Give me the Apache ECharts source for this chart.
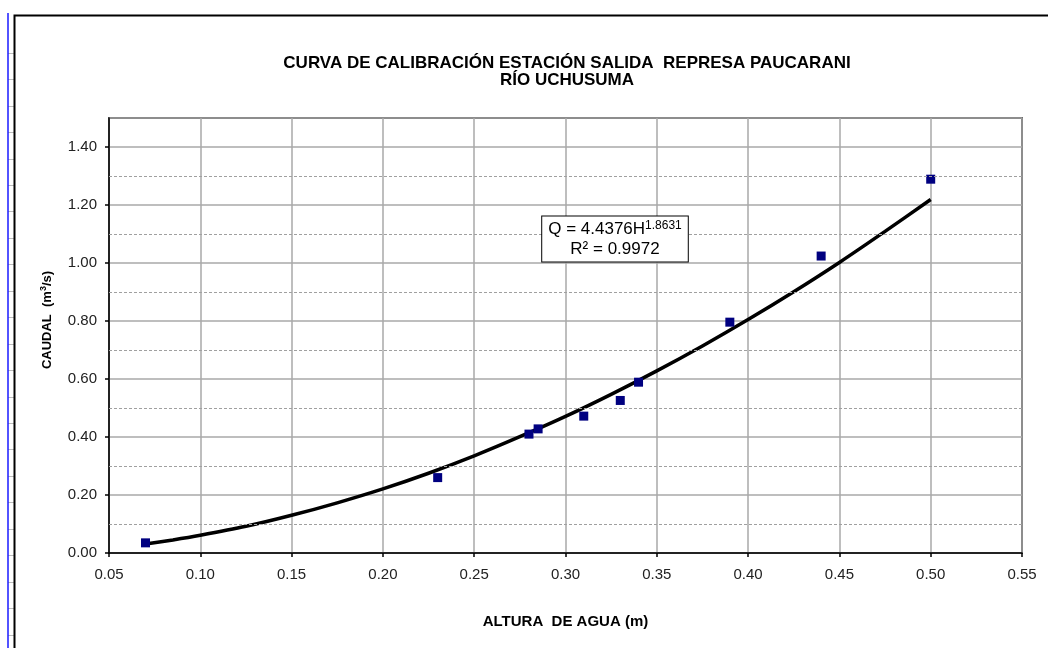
<!DOCTYPE html>
<html>
<head>
<meta charset="utf-8">
<script src="https://cdn.jsdelivr.net/npm/echarts@6/dist/echarts.min.js"></script>
<style>
html,body{margin:0;padding:0;background:#fff;}
#chart{width:1048px;height:648px;}
</style>
</head>
<body>
<div id="chart"></div>
<script>
// Measured data: water height (m) vs discharge (m3/s)
const heights = [0.07, 0.23, 0.28, 0.285, 0.31, 0.33, 0.34, 0.39, 0.44, 0.50];
const flows   = [0.035, 0.26, 0.41, 0.428, 0.472, 0.526, 0.589, 0.796, 1.024, 1.289];
// Trend curve
const curveH = [0.07, 0.085, 0.10, 0.125, 0.15, 0.175, 0.20, 0.225, 0.25, 0.275, 0.30, 0.325, 0.35, 0.375, 0.40, 0.425, 0.45, 0.475, 0.50];
const curveQ = [0.031, 0.045, 0.061, 0.092, 0.130, 0.173, 0.221, 0.275, 0.335, 0.401, 0.471, 0.547, 0.628, 0.714, 0.805, 0.901, 1.002, 1.109, 1.219];
// Dashed intermediate gridlines
const minorGrid = [0.1, 0.3, 0.5, 0.7, 0.9, 1.1, 1.3];
const titleLines = ['CURVA DE CALIBRACIÓN ESTACIÓN SALIDA  REPRESA PAUCARANI', 'RÍO UCHUSUMA'];
const xName = 'ALTURA  DE AGUA (m)';
const eqCoef = '4.4376';
const eqExp = '1.8631';
const r2 = '0.9972';

const chart = echarts.init(document.getElementById('chart'), null, {renderer: 'canvas'});
const font = '"Liberation Sans", Arial, sans-serif';

const gfx = [
  {type: 'line', shape: {x1: 8, y1: 13, x2: 8, y2: 648}, style: {stroke: '#1a1aff', lineWidth: 1.5}, z: 10},
  {type: 'rect', shape: {x: 14.5, y: 15.5, width: 1100, height: 700}, style: {fill: 'none', stroke: '#000', lineWidth: 2}, z: 10},
  {type: 'text', x: 615, y: 239, z: 20,
    style: {
      text: '{a|Q = ' + eqCoef + 'H}{s|' + eqExp + '}\n{a|R² = ' + r2 + '}',
      align: 'center', verticalAlign: 'middle',
      backgroundColor: '#fff', borderColor: '#000', borderWidth: 1,
      padding: [3, 6, 2, 6], fill: '#000', fontFamily: font,
      rich: {
        a: {fontSize: 17, fontFamily: font, lineHeight: 20, fill: '#000'},
        s: {fontSize: 12, fontFamily: font, lineHeight: 20, verticalAlign: 'top', padding: [0, 0, 6, 0], fill: '#000'}
      }
    }
  },
  {type: 'text', x: 47, y: 320, rotation: Math.PI / 2, z: 20,
    style: {
      text: '{a|CAUDAL  (m}{s|3}{a|/s)}', align: 'center', verticalAlign: 'middle', fontFamily: font,
      rich: {
        a: {fontSize: 13, fontWeight: 'bold', fontFamily: font, fill: '#000', lineHeight: 16},
        s: {fontSize: 9, fontWeight: 'bold', fontFamily: font, fill: '#000', lineHeight: 16, padding: [0, 0, 6, 0]}
      }
    }
  }
];
for (let k = 0; k < 23; k++) {
  const y = Math.round(52.7 + k * 26.45) + 0.5;
  gfx.push({type: 'line', shape: {x1: 8, y1: y, x2: 14, y2: y}, style: {stroke: '#bbb', lineWidth: 1}, z: 9});
}

const option = {
  backgroundColor: '#fff',
  animation: false,
  title: {
    text: titleLines.join('\n'),
    left: 562, top: 50, textAlign: 'center',
    textStyle: {fontFamily: font, fontSize: 17, fontWeight: 'bold', color: '#000', lineHeight: 17}
  },
  grid: {left: 109, right: 26, top: 118, bottom: 95, show: true, borderColor: '#000', borderWidth: 1.5, backgroundColor: 'transparent'},
  xAxis: {
    type: 'value', min: 0.05, max: 0.55, interval: 0.05,
    name: xName, nameLocation: 'middle', nameGap: 61,
    nameTextStyle: {fontFamily: font, fontSize: 15, fontWeight: 'bold', color: '#000'},
    axisLine: {show: true, onZero: false, lineStyle: {color: '#000', width: 1.5}},
    axisTick: {show: true, length: 4, lineStyle: {color: '#000', width: 1.5}},
    axisLabel: {fontFamily: font, fontSize: 15, color: '#222', margin: 14, formatter: v => v.toFixed(2)},
    splitLine: {show: true, lineStyle: {color: '#a8a8a8', width: 1.5}}
  },
  yAxis: {
    type: 'value', min: 0, max: 1.5, interval: 0.2,
    axisLine: {show: true, onZero: false, lineStyle: {color: '#000', width: 1.5}},
    axisTick: {show: true, length: 4, lineStyle: {color: '#000', width: 1.5}},
    axisLabel: {fontFamily: font, fontSize: 15, color: '#222', margin: 12, showMaxLabel: false, formatter: v => v.toFixed(2)},
    splitLine: {show: true, lineStyle: {color: '#a8a8a8', width: 1.5}}
  },
  graphic: gfx,
  series: [
    {
      type: 'line', data: [], silent: true, z: 1,
      markLine: {
        silent: true, symbol: 'none', label: {show: false},
        lineStyle: {color: '#a0a0a0', type: [3, 2], width: 1},
        data: minorGrid.map(v => ({yAxis: v}))
      }
    },
    {
      type: 'line', smooth: 0.3, showSymbol: false, z: 3,
      data: curveH.map((h, i) => [h, curveQ[i]]),
      lineStyle: {color: '#000', width: 3.5}
    },
    {
      type: 'scatter', symbol: 'rect', symbolSize: 9, z: 4,
      data: heights.map((h, i) => [h, flows[i]]),
      itemStyle: {color: '#000080', opacity: 1}
    }
  ]
};
chart.setOption(option);
</script>
</body>
</html>
